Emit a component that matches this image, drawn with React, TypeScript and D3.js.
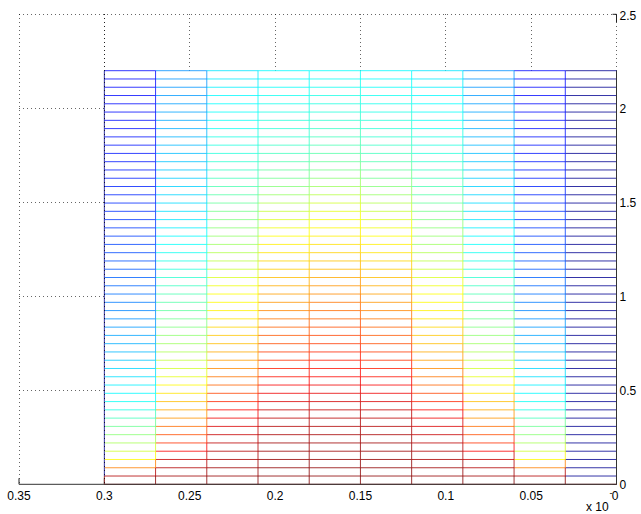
import React, { useRef, useEffect } from 'react';
import * as d3 from 'd3';

// mesh seen from below: x runs right-to-left (units of 1e-3), y on the right,
// edges coloured with jet by the value at their first vertex

const xTicks = [0.35, 0.3, 0.25, 0.2, 0.15, 0.1, 0.05, 0];
const xTickLabels = ['0.35', '0.3', '0.25', '0.2', '0.15', '0.1', '0.05', '0'];
const yTicks = [0, 0.5, 1, 1.5, 2, 2.5];
const yTickLabels = ['0', '0.5', '1', '1.5', '2', '2.5'];

const xGrid = [0, 0.03, 0.06, 0.09, 0.12, 0.15, 0.18, 0.21, 0.24, 0.27, 0.3];
const yGrid = [
  0, 0.044, 0.088, 0.132, 0.176, 0.22, 0.264, 0.308, 0.352, 0.396,
  0.44, 0.484, 0.528, 0.572, 0.616, 0.66, 0.704, 0.748, 0.792, 0.836,
  0.88, 0.924, 0.968, 1.012, 1.056, 1.1, 1.144, 1.188, 1.232, 1.276,
  1.32, 1.364, 1.408, 1.452, 1.496, 1.54, 1.584, 1.628, 1.672, 1.716,
  1.76, 1.804, 1.848, 1.892, 1.936, 1.98, 2.024, 2.068, 2.112, 2.156,
  2.2,
];

// colour level (0..1) along each grid column, bottom row first
const zAt000 = [
  1, 0, 0, 0, 0, 0, 0, 0, 0, 0,
  0, 0, 0, 0, 0, 0, 0, 0, 0, 0,
  0, 0, 0, 0, 0, 0, 0, 0, 0, 0,
  0, 0, 0, 0, 0, 0, 0, 0, 0, 0,
  0, 0, 0, 0, 0, 0, 0, 0, 0, 0,
  0,
];
const zAt003 = [
  1.0, 0.95, 0.75, 0.63, 0.58, 0.54, 0.51, 0.48, 0.44, 0.40,
  0.385, 0.37, 0.36, 0.345, 0.335, 0.32, 0.305, 0.295, 0.285, 0.275,
  0.265, 0.255, 0.245, 0.235, 0.225, 0.22, 0.21, 0.205, 0.195, 0.19,
  0.185, 0.18, 0.175, 0.17, 0.165, 0.16, 0.157, 0.154, 0.151, 0.148,
  0.145, 0.143, 0.141, 0.139, 0.137, 0.135, 0.134, 0.133, 0.132, 0.131,
  0.13,
];
const zAt006 = [
  1.0, 0.97, 0.95, 0.93, 0.88, 0.83, 0.80, 0.77, 0.73, 0.71,
  0.69, 0.65, 0.63, 0.60, 0.58, 0.565, 0.545, 0.53, 0.515, 0.50,
  0.485, 0.47, 0.46, 0.45, 0.435, 0.42, 0.41, 0.40, 0.39, 0.38,
  0.37, 0.36, 0.35, 0.345, 0.34, 0.335, 0.33, 0.325, 0.32, 0.315,
  0.31, 0.305, 0.30, 0.295, 0.29, 0.285, 0.28, 0.275, 0.27, 0.27,
  0.265,
];
const zAt009 = [
  1.0, 0.98, 0.97, 0.96, 0.95, 0.94, 0.93, 0.91, 0.89, 0.87,
  0.84, 0.81, 0.78, 0.76, 0.74, 0.72, 0.71, 0.69, 0.68, 0.665,
  0.65, 0.64, 0.63, 0.625, 0.61, 0.59, 0.575, 0.56, 0.55, 0.53,
  0.52, 0.51, 0.50, 0.49, 0.475, 0.46, 0.45, 0.44, 0.43, 0.42,
  0.41, 0.405, 0.40, 0.39, 0.385, 0.38, 0.375, 0.37, 0.36, 0.355,
  0.35,
];
const zAt012 = [
  1.0, 0.99, 0.985, 0.98, 0.975, 0.97, 0.96, 0.95, 0.94, 0.93,
  0.91, 0.89, 0.88, 0.86, 0.85, 0.83, 0.82, 0.80, 0.79, 0.78,
  0.76, 0.745, 0.73, 0.72, 0.705, 0.69, 0.675, 0.665, 0.65, 0.64,
  0.625, 0.61, 0.59, 0.57, 0.55, 0.525, 0.505, 0.485, 0.47, 0.455,
  0.44, 0.43, 0.42, 0.415, 0.41, 0.40, 0.395, 0.39, 0.38, 0.375,
  0.37,
];
const zAt015 = [
  1.0, 0.99, 0.985, 0.98, 0.975, 0.97, 0.965, 0.955, 0.945, 0.935,
  0.92, 0.90, 0.89, 0.87, 0.86, 0.85, 0.84, 0.82, 0.81, 0.80,
  0.78, 0.77, 0.76, 0.74, 0.73, 0.71, 0.695, 0.685, 0.67, 0.655,
  0.64, 0.63, 0.615, 0.60, 0.58, 0.555, 0.53, 0.51, 0.49, 0.475,
  0.46, 0.45, 0.44, 0.43, 0.42, 0.41, 0.405, 0.40, 0.39, 0.385,
  0.38,
];
// the right half reads the same as the left half
const zAt018 = zAt012;
const zAt021 = zAt009;
const zAt024 = zAt006;
const zAt027 = zAt003;
const zAt030 = zAt000;

const zColumns = [zAt000, zAt003, zAt006, zAt009, zAt012, zAt015, zAt018, zAt021, zAt024, zAt027, zAt030];

const W = 641;
const H = 514;

export default function App() {
  const svgRef = useRef<SVGSVGElement | null>(null);

  useEffect(() => {
    if (!svgRef.current) return;
    const svg = d3.select(svgRef.current);
    svg.selectAll('*').remove();

    const x = d3.scaleLinear().domain([0.35, 0]).range([19, 616.5]);
    const y = d3.scaleLinear().domain([0, 2.5]).range([484.3, 14.3]);

    const jet = d3.scaleLinear<string>()
      .domain([0, 0.125, 0.375, 0.625, 0.875, 1])
      .range(['#000090', '#0000ff', '#00ffff', '#ffff00', '#ff0000', '#800000'])
      .interpolate(d3.interpolateRgb)
      .clamp(true);

    const left = x(0.35), right = x(0), top = y(2.5), bottom = y(0);
    const meshTop = y(yGrid[yGrid.length - 1]);
    const meshLeft = x(xGrid[xGrid.length - 1]);

    const grid = svg.append('g')
      .attr('stroke', '#000')
      .attr('stroke-opacity', 0.6)
      .attr('stroke-dasharray', '1,3')
      .attr('shape-rendering', 'crispEdges');

    // vertical grid lines (only the parts outside the mesh show)
    xTicks.forEach(t => {
      grid.append('line')
        .attr('x1', x(t)).attr('x2', x(t))
        .attr('y1', top).attr('y2', bottom);
    });
    // horizontal grid lines
    yTicks.filter(t => t > 0).forEach(t => {
      grid.append('line')
        .attr('x1', left).attr('x2', right)
        .attr('y1', y(t)).attr('y2', y(t));
    });

    // ticks
    const ticks = svg.append('g').attr('stroke', '#222').attr('stroke-width', 1);
    xTicks.forEach(t => {
      ticks.append('line')
        .attr('x1', x(t)).attr('x2', x(t))
        .attr('y1', bottom).attr('y2', bottom - 6);
    });
    yTicks.forEach(t => {
      ticks.append('line')
        .attr('x1', right).attr('x2', right - 4)
        .attr('y1', y(t)).attr('y2', y(t));
    });
    ticks.append('line')
      .attr('x1', right).attr('x2', right)
      .attr('y1', top).attr('y2', top + 8);

    // white faces of the mesh hide the grid behind it
    svg.append('rect')
      .attr('x', meshLeft).attr('y', meshTop)
      .attr('width', right - meshLeft).attr('height', bottom - meshTop)
      .attr('fill', '#fff');

    const mesh = svg.append('g').attr('stroke-width', 0.8).attr('fill', 'none');

    // rows
    yGrid.forEach((yv, j) => {
      for (let k = 0; k < xGrid.length - 1; k++) {
        mesh.append('line')
          .attr('x1', x(xGrid[k])).attr('x2', x(xGrid[k + 1]))
          .attr('y1', y(yv)).attr('y2', y(yv))
          .attr('stroke', jet(zColumns[k][j]));
      }
    });
    // columns
    xGrid.forEach((xv, k) => {
      for (let j = 0; j < yGrid.length - 1; j++) {
        mesh.append('line')
          .attr('x1', x(xv)).attr('x2', x(xv))
          .attr('y1', y(yGrid[j])).attr('y2', y(yGrid[j + 1]))
          .attr('stroke', jet(zColumns[k][j]));
      }
    });

    // grid line running along the mesh edge sits on top of it
    svg.append('line')
      .attr('x1', meshLeft).attr('x2', meshLeft)
      .attr('y1', top).attr('y2', bottom)
      .attr('stroke', '#000')
      .attr('stroke-opacity', 0.7)
      .attr('stroke-dasharray', '1,3')
      .attr('shape-rendering', 'crispEdges');

    // dark edge along x = 0 below the mesh top
    svg.append('line')
      .attr('x1', right).attr('x2', right)
      .attr('y1', meshTop).attr('y2', bottom)
      .attr('stroke', '#333')
      .attr('stroke-width', 1);

    // x axis line
    svg.append('line')
      .attr('x1', left).attr('x2', right)
      .attr('y1', bottom).attr('y2', bottom)
      .attr('stroke', '#333')
      .attr('stroke-width', 1);

    const labels = svg.append('g')
      .attr('font-family', '"Liberation Sans", Arial, Helvetica, sans-serif')
      .attr('font-size', 12)
      .attr('fill', '#000');

    xTicks.forEach((t, i) => {
      labels.append('text')
        .attr('x', x(t) - (t === 0 ? 1.5 : 0))
        .attr('y', 500)
        .attr('text-anchor', 'middle')
        .text(xTickLabels[i]);
    });
    yTicks.forEach((t, i) => {
      labels.append('text')
        .attr('x', right + 3)
        .attr('y', y(t) + 4.3 + (t === 2.5 ? 1.5 : 0))
        .attr('text-anchor', 'start')
        .text(yTickLabels[i]);
    });

    // exponent of the x axis
    labels.append('text')
      .attr('x', 586)
      .attr('y', 510.5)
      .text('x 10');
    labels.append('text')
      .attr('x', 609.5)
      .attr('y', 496)
      .attr('font-size', 9)
      .text('-');
  }, []);

  return (
    <svg
      ref={svgRef}
      width={W}
      height={H}
      style={{ position: 'absolute', left: 0, top: 0, background: '#fff' }}
    />
  );
}
